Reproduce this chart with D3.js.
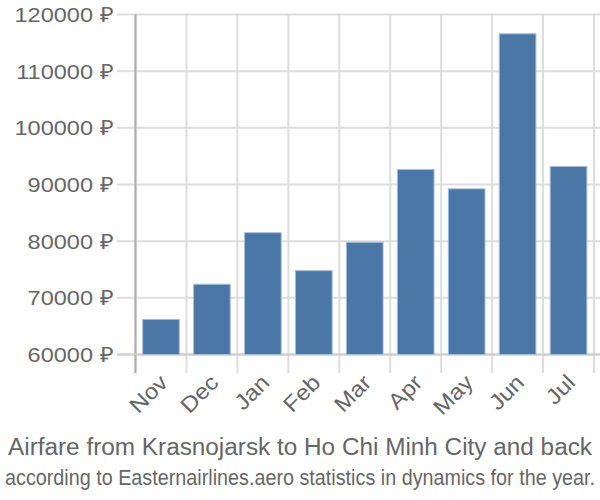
<!DOCTYPE html>
<html><head><meta charset="utf-8">
<script src="https://cdn.jsdelivr.net/npm/d3@7"></script>
<style>body{margin:0;background:#fff}svg{display:block}</style>
</head><body><svg id="c" width="600" height="500"></svg>
<script>
const months = ["Nov","Dec","Jan","Feb","Mar","Apr","May","Jun","Jul"];
const prices = [66200,72400,81500,74800,79800,92650,89240,116600,93180];
const yTicks = [60000,70000,80000,90000,100000,110000,120000];
const title = "Airfare from Krasnojarsk to Ho Chi Minh City and back";
const subtitle = "according to Easternairlines.aero statistics in dynamics for the year.";

(function(){
const svg = d3.select("#c");
const pL = 135.5, pR = 594, pT = 14.5, pB = 354.5;
const x = d3.scaleBand().domain(months).range([pL, pR]).paddingInner(0.28).paddingOuter(0.14);
const y = d3.scaleLinear().domain([60000,120000]).range([pB, pT]);
const font = "Liberation Sans, Arial, sans-serif";
const stretch = function(sel, k){
  sel.each(function(){ const L = this.getComputedTextLength(); d3.select(this).attr("textLength", L*k).attr("lengthAdjust","spacingAndGlyphs"); });
};

const grid = svg.append("g");
const step = (pR-pL)/months.length;
grid.selectAll("line.v").data(d3.range(months.length+1)).join("line")
  .attr("x1", i=>pL+i*step).attr("x2", i=>pL+i*step)
  .attr("y1", pT).attr("y2", 373)
  .attr("stroke", "#ddd").attr("stroke-width", 2);
grid.selectAll("line.h").data(yTicks).join("line")
  .attr("x1", 117).attr("x2", 600)
  .attr("y1", d=>y(d)).attr("y2", d=>y(d))
  .attr("stroke", "#ddd").attr("stroke-width", 2);

svg.append("line").attr("x1", pL).attr("x2", pL).attr("y1", pT).attr("y2", 373)
  .attr("stroke", "#aaa").attr("stroke-width", 2);
svg.append("line").attr("x1", 117).attr("x2", 600).attr("y1", pB).attr("y2", pB)
  .attr("stroke", "#ccc").attr("stroke-width", 2);

svg.append("g").selectAll("rect").data(months).join("rect")
  .attr("x", d=>x(d)).attr("width", x.bandwidth())
  .attr("y", (d,i)=>y(prices[i])).attr("height", (d,i)=>pB - y(prices[i]))
  .attr("fill", "#4b77a6").attr("stroke", "#a9bfd8").attr("stroke-width", 1);

svg.append("g").selectAll("text").data(yTicks).join("text")
  .attr("x", 113).attr("y", d=>y(d)).attr("dy", "0.36em")
  .attr("text-anchor", "end").attr("fill", "#666")
  .style("font", `21px ${font}`)
  .text(d=>d+" \u20BD")
  .call(stretch, 1.12);

svg.append("g").selectAll("text").data(months).join("text")
  .attr("transform", d=>`translate(${x(d)+x.bandwidth()/2+8},${384}) rotate(-45)`)
  .attr("text-anchor", "end").attr("fill", "#666")
  .style("font", `22px ${font}`)
  .text(d=>d)
  .call(stretch, 1.1);

svg.append("text").attr("x", 300).attr("y", 455).attr("text-anchor", "middle")
  .attr("fill", "#666").style("font", `23.5px ${font}`)
  .attr("textLength", 584).attr("lengthAdjust", "spacingAndGlyphs").text(title);
svg.append("text").attr("transform", "translate(300,485) scale(1,1.25)").attr("text-anchor", "middle")
  .attr("fill", "#666").style("font", `17.5px ${font}`)
  .attr("textLength", 590).attr("lengthAdjust", "spacingAndGlyphs").text(subtitle);
})();
</script></body></html>
